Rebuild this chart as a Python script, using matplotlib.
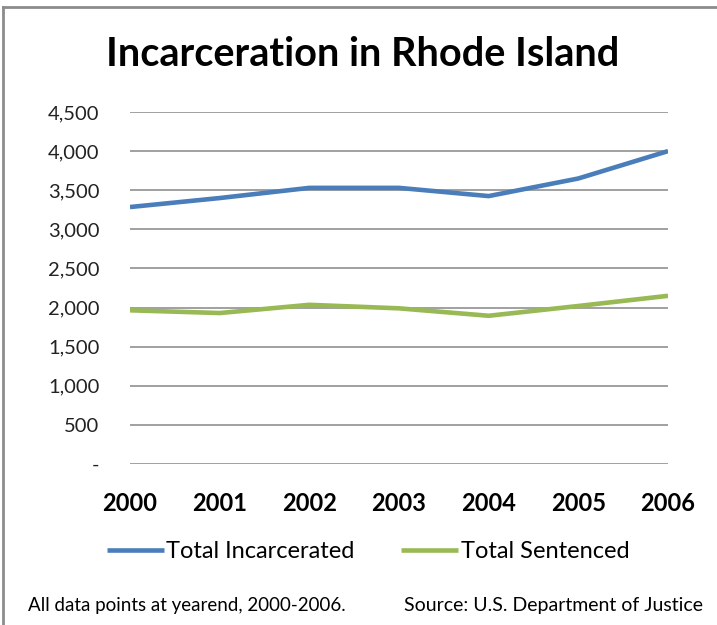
import matplotlib
matplotlib.use("Agg")
import matplotlib.pyplot as plt
from matplotlib.lines import Line2D
from matplotlib.ticker import FuncFormatter

years = ["2000", "2001", "2002", "2003", "2004", "2005", "2006"]
total_incarcerated = [3285, 3400, 3530, 3530, 3425, 3650, 4000]
total_sentenced = [1965, 1930, 2035, 1990, 1895, 2020, 2150]
yticks = [0, 500, 1000, 1500, 2000, 2500, 3000, 3500, 4000, 4500]

plt.rcParams['font.family'] = ['Lato', 'DejaVu Sans']

fig = plt.figure(figsize=(7.17, 6.25), dpi=100)
ax = fig.add_axes([130 / 717, 1 - 464 / 625, 538 / 717, 352 / 625])

x = list(range(len(years)))
blue = "#4A7EBB"
green = "#98B954"
ax.plot(x, total_incarcerated, color=blue, lw=3.3, solid_capstyle="butt",
        label="Total Incarcerated", zorder=3)
ax.plot(x, total_sentenced, color=green, lw=3.3, solid_capstyle="butt",
        label="Total Sentenced", zorder=3)

ax.set_xlim(0, len(years) - 1)
ax.set_ylim(0, 4500)
ax.set_yticks(yticks)
ax.yaxis.set_major_formatter(FuncFormatter(lambda v, p: "-" if v == 0 else f"{int(v):,}"))
ax.set_xticks(x)
ax.set_xticklabels(years, fontweight="bold", fontsize=17)
ax.tick_params(axis="y", length=0, pad=22, labelsize=14.5, labelcolor="#222222")
ax.tick_params(axis="x", length=0, pad=20)
ax.grid(axis="y", color="#868686", lw=1.1)
ax.set_axisbelow(True)
for s in ax.spines.values():
    s.set_visible(False)

fig.text(363 / 717, 1 - 55 / 625, "Incarceration in Rhode Island", ha="center",
         va="center", fontsize=28.5, fontweight="bold")

fig.legend(handles=ax.get_lines(), loc="center", bbox_to_anchor=(368 / 717, 1 - 552 / 625),
           ncol=2, frameon=False, fontsize=17, handlelength=2.4, handletextpad=0.1,
           columnspacing=2.0)

fig.text(28 / 717, 1 - 606 / 625, "All data points at yearend, 2000-2006.",
         ha="left", va="center", fontsize=13.5)
fig.text(703 / 717, 1 - 606 / 625, "Source: U.S. Department of Justice",
         ha="right", va="center", fontsize=14)

# outer chart border (cut off at right and bottom)
fig.add_artist(Line2D([3 / 717, 3 / 717], [0, 1 - 7 / 625], color="#8c8c8c", lw=2))
fig.add_artist(Line2D([3 / 717, 1], [1 - 7 / 625, 1 - 7 / 625], color="#8c8c8c", lw=2))

fig.savefig("out.png", dpi=100)
